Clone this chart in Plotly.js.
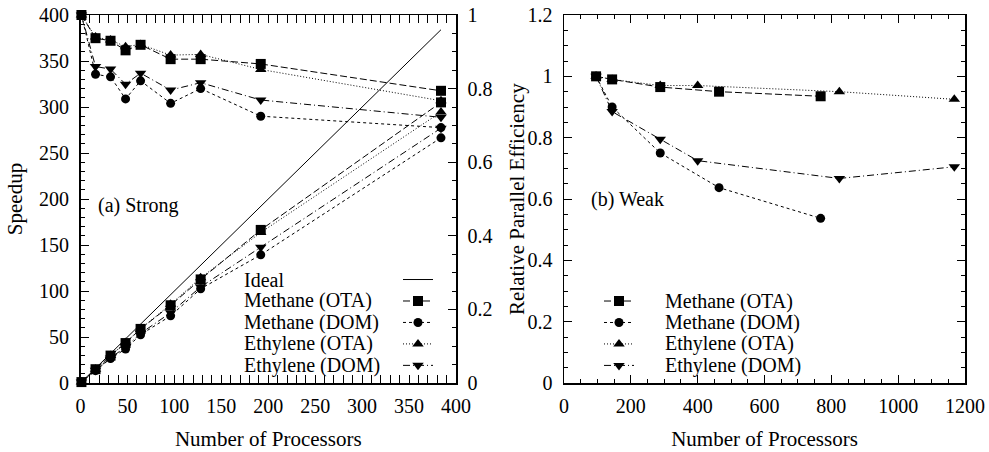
<!DOCTYPE html>
<html>
<head>
<meta charset="utf-8">
<script src="https://cdn.plot.ly/plotly-3.0.1.min.js"></script>
<style>html,body{margin:0;padding:0;background:#fff;}#chart{width:989px;height:452px;}</style>
</head>
<body>
<div id="chart"></div>
<script>
// ---- (a) Strong scaling data ----
const procStrong = [1, 16, 32, 48, 64, 96, 128, 192, 384];
const idealProc = [1, 384];
const idealSpeedup = [1, 384];
const speedupMethaneOTA = [1, 15, 29.8, 43.4, 58.8, 84.5, 112.6, 166.4, 305];
const speedupMethaneDOM = [1, 13.4, 26.6, 37, 52.5, 73, 102.4, 139.3, 266.5];
const speedupEthyleneOTA = [1, 15, 29.8, 43.9, 58.9, 85.5, 114.3, 163.6, 294.5];
const speedupEthyleneDOM = [1, 13.8, 27.3, 39, 53.9, 76.4, 104.4, 147.6, 277];
const effStrongMethaneOTA = [1, 0.937, 0.93, 0.904, 0.919, 0.88, 0.88, 0.867, 0.794];
const effStrongMethaneDOM = [1, 0.839, 0.832, 0.772, 0.821, 0.76, 0.80, 0.725, 0.694];
const effStrongEthyleneOTA = [1, 0.94, 0.932, 0.914, 0.92, 0.891, 0.893, 0.852, 0.767];
const effStrongEthyleneDOM = [1, 0.86, 0.853, 0.812, 0.842, 0.796, 0.816, 0.769, 0.722];

// ---- (b) Weak scaling data ----
const procWeakMethane = [96, 144, 288, 464, 768];
const procWeakEthylene = [96, 144, 288, 400, 824, 1168];
const effWeakMethaneOTA = [1, 0.99, 0.965, 0.95, 0.935];
const effWeakMethaneDOM = [1, 0.9, 0.75, 0.637, 0.537];
const effWeakEthyleneOTA = [1, 0.99, 0.97, 0.97, 0.95, 0.925];
const effWeakEthyleneDOM = [1, 0.885, 0.795, 0.725, 0.667, 0.705];

const seriesNames = ['Methane (OTA)', 'Methane (DOM)', 'Ethylene (OTA)', 'Ethylene (DOM)'];
const tickX1 = [0, 50, 100, 150, 200, 250, 300, 350, 400];

const FONT = '"Liberation Serif", "Times New Roman", "DejaVu Serif", serif';
const styles = [
  {symbol: 'square', size: 10, dash: '7px,3px'},
  {symbol: 'circle', size: 9, dash: '3px,3px'},
  {symbol: 'triangle-up', size: 10, dash: '1px,2px'},
  {symbol: 'triangle-down', size: 10, dash: '7px,3px,1px,3px'}
];

function tr(x, y, s, xa, ya, leg, show) {
  return {
    x: x, y: y, xaxis: xa, yaxis: ya, type: 'scatter', mode: 'lines+markers',
    name: ' ', legend: leg, showlegend: show, cliponaxis: false,
    line: {color: 'black', width: 1, dash: s.dash},
    marker: {color: 'black', symbol: s.symbol, size: s.size}
  };
}

const data = [];
data.push({x: idealProc, y: idealSpeedup, xaxis: 'x', yaxis: 'y', type: 'scatter', mode: 'lines',
  name: ' ', legend: 'legend', showlegend: true, line: {color: 'black', width: 1}});
const sp = [speedupMethaneOTA, speedupMethaneDOM, speedupEthyleneOTA, speedupEthyleneDOM];
const es = [effStrongMethaneOTA, effStrongMethaneDOM, effStrongEthyleneOTA, effStrongEthyleneDOM];
for (let i = 0; i < 4; i++) data.push(tr(procStrong, sp[i], styles[i], 'x', 'y', 'legend', true));
for (let i = 0; i < 4; i++) data.push(tr(procStrong, es[i], styles[i], 'x', 'y2', 'legend', false));
const wx = [procWeakMethane, procWeakMethane, procWeakEthylene, procWeakEthylene];
const wy = [effWeakMethaneOTA, effWeakMethaneDOM, effWeakEthyleneOTA, effWeakEthyleneDOM];
for (let i = 0; i < 4; i++) data.push(tr(wx[i], wy[i], styles[i], 'x2', 'y3', 'legend2', true));

const axBase = {
  showline: true, linecolor: 'black', linewidth: 1.5, showgrid: false, zeroline: false,
  ticks: 'inside', ticklen: 8, tickwidth: 1, tickcolor: 'black',
  tickfont: {family: FONT, size: 20, color: 'black'}, automargin: false
};
function ax(extra) { return Object.assign({}, axBase, extra); }

const W = 989, H = 452, TOP = 15, BOT = 383;
function py(p) { return (BOT - p) / (BOT - TOP); }
const leftLegendText = ['Ideal'].concat(seriesNames);
const annotations = [];
leftLegendText.forEach((t, i) => annotations.push({
  text: t, xref: 'paper', yref: 'paper', x: 242 / W, y: py(279.5 + i * 21.4),
  xanchor: 'left', yanchor: 'middle', showarrow: false, font: {family: FONT, size: 20, color: 'black'}
}));
seriesNames.forEach((t, i) => annotations.push({
  text: t, xref: 'paper', yref: 'paper', x: 663 / W, y: py(301 + i * 21.4),
  xanchor: 'left', yanchor: 'middle', showarrow: false, font: {family: FONT, size: 20, color: 'black'}
}));
annotations.push({text: '(a) Strong', xref: 'x', yref: 'y', x: 17, y: 193, xanchor: 'left', yanchor: 'middle',
  showarrow: false, font: {family: FONT, size: 20, color: 'black'}});
annotations.push({text: '(b) Weak', xref: 'x2', yref: 'y3', x: 75, y: 0.6, xanchor: 'left', yanchor: 'middle',
  showarrow: false, font: {family: FONT, size: 20, color: 'black'}});
annotations.push({text: 'Relative Parallel Efficiency', xref: 'paper', yref: 'paper', x: 517 / W, y: 0.5,
  xanchor: 'center', yanchor: 'middle', textangle: -90, showarrow: false,
  font: {family: FONT, size: 21, color: 'black'}});

const layout = {
  width: W, height: H, margin: {l: 0, r: 0, t: TOP, b: H - BOT},
  paper_bgcolor: 'white', plot_bgcolor: 'white',
  font: {family: FONT, size: 20, color: 'black'},
  xaxis: ax({domain: [80.5 / W, 456 / W], anchor: 'y', range: [0, 400], tickvals: tickX1, mirror: 'allticks',
    minor: {dtick: 10, ticks: 'inside', ticklen: 4, tickcolor: 'black'}, ticklabelstandoff: 4,
    title: {text: 'Number of Processors', font: {family: FONT, size: 21}, standoff: 16}}),
  yaxis: ax({domain: [0, 1], anchor: 'x', range: [0, 400], dtick: 50,
    minor: {dtick: 10, ticks: 'inside', ticklen: 4, tickcolor: 'black'}, ticklabelstandoff: 6,
    title: {text: 'Speedup', font: {family: FONT, size: 21}, standoff: 10}}),
  yaxis2: ax({overlaying: 'y', side: 'right', anchor: 'x', range: [0, 1], dtick: 0.2,
    minor: {dtick: 0.05, ticks: 'inside', ticklen: 4, tickcolor: 'black'}, ticklabelstandoff: 6}),
  xaxis2: ax({domain: [564 / W, 965 / W], anchor: 'y3', range: [0, 1200], dtick: 200, mirror: 'allticks',
    minor: {dtick: 50, ticks: 'inside', ticklen: 4, tickcolor: 'black'}, ticklabelstandoff: 4,
    title: {text: 'Number of Processors', font: {family: FONT, size: 21}, standoff: 16}}),
  yaxis3: ax({domain: [0, 1], anchor: 'x2', range: [0, 1.2], dtick: 0.2, mirror: 'allticks',
    minor: {dtick: 0.05, ticks: 'inside', ticklen: 4, tickcolor: 'black'}, ticklabelstandoff: 6}),
  legend: {x: 398 / W, y: py(279.5 - 15.7), xanchor: 'left', yanchor: 'top', bgcolor: 'rgba(0,0,0,0)',
    borderwidth: 0, font: {size: 14.2}, tracegroupgap: 0},
  legend2: {x: 599 / W, y: py(301 - 15.7), xanchor: 'left', yanchor: 'top', bgcolor: 'rgba(0,0,0,0)',
    borderwidth: 0, font: {size: 14.2}, tracegroupgap: 0},
  annotations: annotations
};

Plotly.newPlot('chart', data, layout, {staticPlot: true, displayModeBar: false});
</script>
</body>
</html>
